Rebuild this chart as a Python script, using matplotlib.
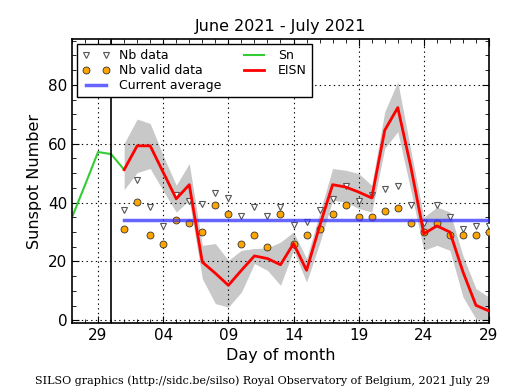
import matplotlib
matplotlib.use("Agg")
import matplotlib.pyplot as plt
import numpy as np

# x positions: day offset where July 1 = 1, June 30 = 0
sn_days = [-3, -2, -1, 0, 1]
sn_vals = [35.0, 46.0, 57.2, 56.5, 51.2]

days = list(range(1, 30))
eisn = [51.2, 59.3, 59.3, 50.3, 41.3, 46.1, 19.8, 16.0, 11.9, 17.0,
        21.9, 21.0, 18.9, 26.1, 17.0, 32.0, 46.1, 45.3, 43.6, 41.6,
        64.6, 72.3, 52.2, 29.4, 32.1, 30.0, 16.5, 5.1, 3.2]
eisn_hi = [60.1, 68.4, 66.9, 56.0, 45.9, 53.3, 25.5, 26.1, 20.4, 23.8,
           24.4, 24.6, 26.6, 30.0, 21.0, 36.3, 51.6, 51.0, 49.9, 45.9,
           70.9, 81.1, 57.8, 35.0, 38.5, 36.8, 22.0, 10.8, 7.9]
eisn_lo = [44.4, 50.2, 51.6, 44.0, 36.8, 40.8, 14.2, 5.7, 4.5, 9.6,
           19.3, 17.0, 11.9, 23.8, 13.0, 26.1, 40.8, 40.2, 38.0, 36.8,
           58.4, 64.1, 44.2, 23.8, 25.5, 23.8, 8.0, 0.5, 0.0]
nb_data = [37.6, 47.6, 38.5, 32.2, 42.5, 40.5, 39.5, 43.4, 41.5, 35.4,
           38.4, 35.4, 38.4, 32.4, 33.3, 37.4, 41.4, 45.6, 40.4, 42.5,
           44.6, 45.6, 39.3, 33.1, 39.3, 35.1, 31.2, 32.1, 32.1]
nb_valid = [31.2, 40.2, 29.0, 26.0, 34.2, 33.1, 30.0, 39.3, 36.3, 26.0,
            29.0, 24.9, 36.2, 26.1, 29.0, 31.0, 36.2, 39.2, 35.1, 35.1,
            37.2, 38.2, 33.1, 30.0, 33.1, 28.9, 28.9, 28.9, 30.0]
current_avg = 34.0

tick_pos = [-1, 4, 9, 14, 19, 24, 29]
tick_labels = ["29", "04", "09", "14", "19", "24", "29"]

fig = plt.figure(figsize=(5.15, 3.9), dpi=100)
ax = fig.add_axes([0.1398, 0.1718, 0.8097, 0.7274])

ax.fill_between(days, eisn_lo, eisn_hi, color="#c8c8c8", linewidth=0, zorder=1)
ax.plot(days, nb_data, linestyle="none", marker="v", markersize=4.5,
        markerfacecolor="white", markeredgecolor="#555555", markeredgewidth=0.8,
        label="Nb data", zorder=3)
ax.plot(days, nb_valid, linestyle="none", marker="o", markersize=5,
        markerfacecolor="orange", markeredgecolor="#333333", markeredgewidth=0.6,
        label="Nb valid data", zorder=3)
ax.plot([days[0], days[-1]], [current_avg, current_avg], color="#3333ff",
        alpha=0.75, linewidth=2.5, label="Current average", zorder=4)
ax.plot(sn_days, sn_vals, color="#33cc33", linewidth=1.5, label="Sn", zorder=2)
ax.plot(days, eisn, color="red", linewidth=2, label="EISN", zorder=5)
ax.axvline(0, color="black", linewidth=1.2, zorder=2)

ax.set_xlim(-3, 29)
ax.set_ylim(-0.9, 95.5)
ax.set_xticks(tick_pos)
ax.set_xticklabels(tick_labels)
ax.set_xticks(range(-3, 30), minor=True)
ax.set_yticks([0, 20, 40, 60, 80])
ax.set_yticks(range(0, 96, 5), minor=True)
ax.tick_params(which="both", direction="in", top=True, right=True, labelsize=11)
ax.tick_params(which="major", length=5)
ax.tick_params(which="minor", length=3)
ax.grid(True, which="major", linestyle=(0, (1.2, 3)), color="black", linewidth=0.8)
for s in ax.spines.values():
    s.set_linewidth(1.2)

ax.set_title("June 2021 - July 2021", fontsize=11.5)
ax.set_xlabel("Day of month", fontsize=11.5)
ax.set_ylabel("Sunspot Number", fontsize=11.5)

leg = ax.legend(loc="upper left", ncol=2, numpoints=2, fontsize=9,
                fancybox=False, edgecolor="black", framealpha=1,
                borderaxespad=0.4, handlelength=2.2, columnspacing=1.5,
                labelspacing=0.15)
leg.get_frame().set_linewidth(1.0)

fig.text(0.51, 0.025, "SILSO graphics (http://sidc.be/silso) Royal Observatory of Belgium, 2021 July 29",
         ha="center", va="center", fontsize=8, family="DejaVu Serif")

fig.savefig("out.png", dpi=100)
